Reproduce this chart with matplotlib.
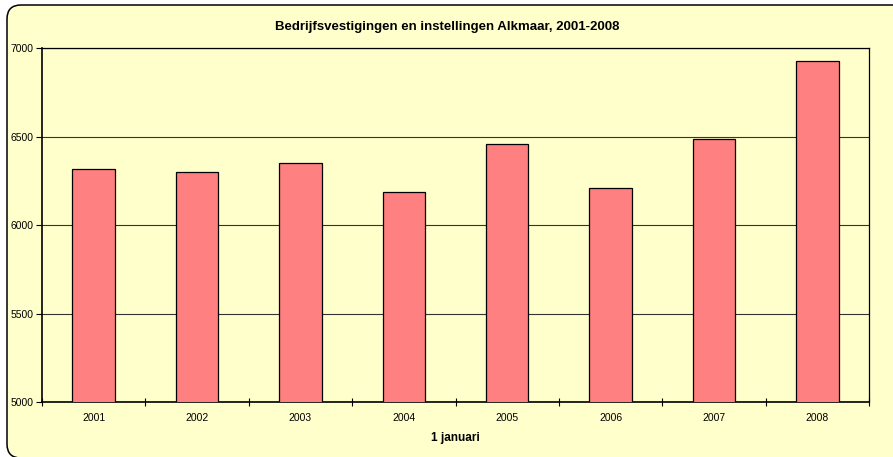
import matplotlib
matplotlib.use("Agg")
import matplotlib.pyplot as plt
from matplotlib.patches import FancyBboxPatch
import numpy as np

years = ["2001", "2002", "2003", "2004", "2005", "2006", "2007", "2008"]
values = [6316, 6299, 6350, 6186, 6458, 6209, 6488, 6928]
yticks = [5000, 5500, 6000, 6500, 7000]

plt.rcParams['font.family'] = ['Liberation Sans', 'DejaVu Sans']

W, H = 893, 457
fig = plt.figure(figsize=(W / 100, H / 100), dpi=100)
fig.patch.set_facecolor('white')

bg = '#FFFFCC'
bgax = fig.add_axes([0, 0, 1, 1])
bgax.set_xlim(0, W)
bgax.set_ylim(H, 0)
bgax.axis('off')
bgax.set_zorder(0)
box = FancyBboxPatch((7, 5), 905, 453,
                     boxstyle="round,pad=0,rounding_size=14",
                     facecolor=bg, edgecolor='black', linewidth=1.1)
bgax.add_patch(box)

left, right, top, bottom = 42, 869, 48, 402
ax = fig.add_axes([left / W, 1 - bottom / H, (right - left) / W, (bottom - top) / H])
ax.set_zorder(5)
ax.set_facecolor(bg)

x = np.arange(len(years))
ax.bar(x, values, width=0.41, color='#FF8080', edgecolor='black', linewidth=0.9, zorder=3)

ax.set_xlim(-0.5, len(years) - 0.5)
ax.set_ylim(5000, 7000)
ax.set_yticks(yticks)
ax.set_yticklabels([str(v) for v in yticks], fontsize=7.5)
ax.set_xticks(x)
ax.set_xticklabels(years, fontsize=7.5)
ax.tick_params(axis='x', length=0, pad=8)
ax.set_xticks(np.arange(-0.5, len(years) + 0.5, 1), minor=True)
ax.tick_params(axis='x', which='minor', length=6, direction='inout', width=0.8)
ax.tick_params(axis='y', length=4, direction='out', width=0.8, pad=2)
ax.yaxis.grid(True, color='#333333', linewidth=0.8, zorder=1)
ax.set_axisbelow(True)
for s in ax.spines.values():
    s.set_color('black')
    s.set_linewidth(0.9)
ax.spines['bottom'].set_linewidth(1.2)
ax.spines['left'].set_linewidth(1.2)

fig.text(447 / W, 1 - 27 / H, "Bedrijfsvestigingen en instellingen Alkmaar, 2001-2008",
         ha='center', va='center', fontsize=9.5, fontweight='bold')
fig.text(455 / W, 1 - 438 / H, "1 januari", ha='center', va='center',
         fontsize=8.5, fontweight='bold')

fig.savefig("out.png", dpi=100, facecolor=fig.get_facecolor())
